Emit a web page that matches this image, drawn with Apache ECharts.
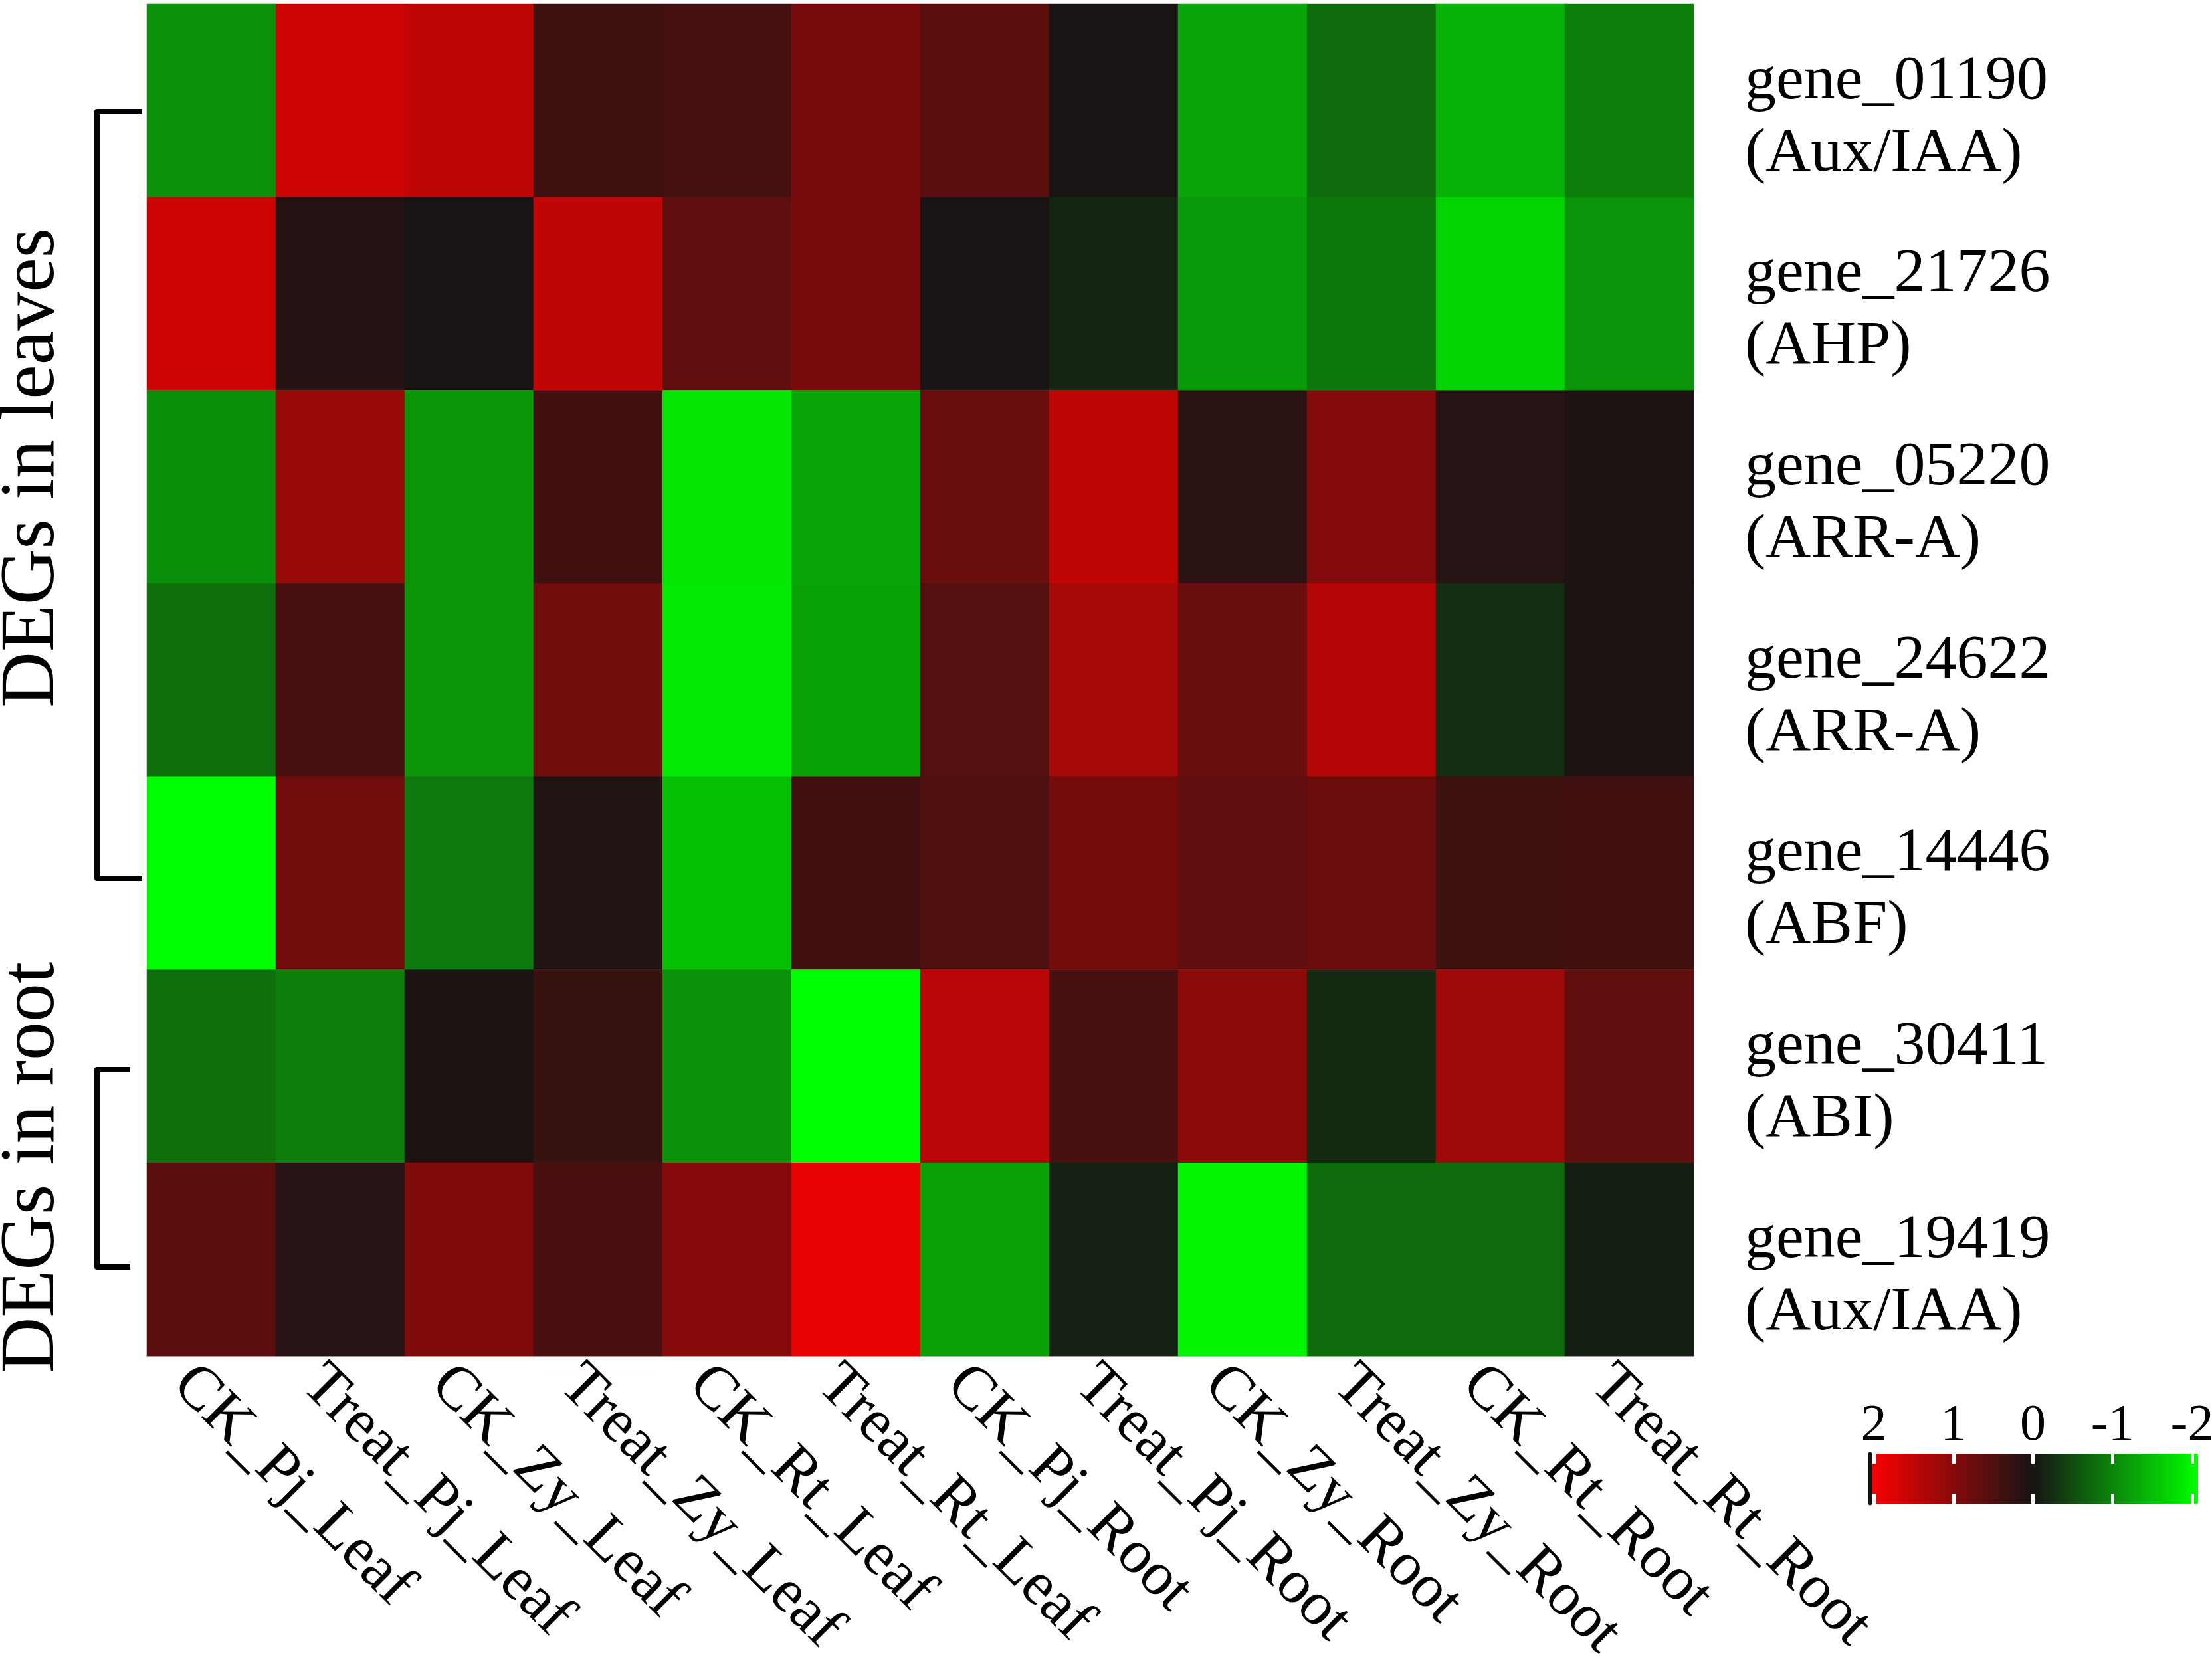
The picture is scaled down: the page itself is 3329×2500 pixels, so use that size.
<!DOCTYPE html>
<html>
<head>
<meta charset="utf-8">
<script src="https://cdn.jsdelivr.net/npm/echarts@6/dist/echarts.min.js"></script>
<style>
html,body{margin:0;padding:0;background:#fff;}
#chart{width:3329px;height:2500px;}
</style>
</head>
<body>
<div id="chart"></div>
<script>
// ---- data ----
const genes = ['gene_01190','gene_21726','gene_05220','gene_24622','gene_14446','gene_30411','gene_19419'];
const families = ['Aux/IAA','AHP','ARR-A','ARR-A','ABF','ABI','Aux/IAA'];
const samples = ['CK_Pj_Leaf','Treat_Pj_Leaf','CK_Zy_Leaf','Treat_Zy_Leaf','CK_Rt_Leaf','Treat_Rt_Leaf',
                 'CK_Pj_Root','Treat_Pj_Root','CK_Zy_Root','Treat_Zy_Root','CK_Rt_Root','Treat_Rt_Root'];
const gene_01190 = [-1.06, 1.56, 1.46, 0.35, 0.40, 0.82, 0.58, 0.02, -1.23, -0.75, -1.34, -0.92];
const gene_21726 = [ 1.56, 0.13, 0.02, 1.46, 0.64, 0.84, 0.02, -0.15, -1.14, -0.83, -1.63, -1.09];
const gene_05220 = [-1.05, 1.12, -1.11, 0.36, -1.79, -1.23, 0.72, 1.46, 0.17, 0.94, 0.14, 0.07];
const gene_24622 = [-0.78, 0.43, -1.11, 0.77, -1.82, -1.22, 0.53, 1.22, 0.72, 1.36, -0.22, 0.07];
const gene_14446 = [-2.00, 0.77, -0.85, 0.10, -1.46, 0.38, 0.48, 0.81, 0.64, 0.74, 0.34, 0.36];
const gene_30411 = [-0.78, -0.92, 0.07, 0.29, -1.06, -2.00, 1.39, 0.43, 1.00, -0.19, 1.18, 0.64];
const gene_19419 = [ 0.60, 0.15, 0.91, 0.45, 0.96, 1.80, -1.19, -0.12, -1.91, -0.75, -0.75, -0.09];
const rows = [gene_01190, gene_21726, gene_05220, gene_24622, gene_14446, gene_30411, gene_19419];
const scaleMin = -2, scaleMax = 2, scaleStep = 1;
const groupLabels = ['DEGs in leaves', 'DEGs in root'];

// ---- build ----
const cells = [];
rows.forEach((vals, r) => vals.forEach((v, c) => cells.push([c, r, v])));
const geneLabels = genes.map((g, i) => '{s| }\n' + g + '\n(' + families[i] + ')');

const FONT = 'Liberation Serif';
const chart = echarts.init(document.getElementById('chart'), null, {renderer: 'canvas'});

const legendAxis = (pos) => ({
  gridIndex: 1, type: 'value', min: scaleMin, max: scaleMax, interval: scaleStep,
  inverse: true, position: pos, z: 10,
  axisLine: {show: false, onZero: false},
  axisTick: {show: true, inside: true, length: 15, lineStyle: {color: '#ffffff', width: 5}},
  splitLine: {show: false},
  axisLabel: pos === 'top'
    ? {show: true, fontFamily: FONT, fontSize: 78, color: '#000', margin: 2, formatter: v => String(v)}
    : {show: false}
});

chart.setOption({
  animation: false,
  backgroundColor: '#ffffff',
  grid: [
    {left: 221, top: 6, width: 2328, height: 2035, containLabel: false, outerBoundsMode: 'none'},
    {left: 2820, top: 2188, width: 479, height: 75, containLabel: false, outerBoundsMode: 'none'}
  ],
  xAxis: [
    {
      type: 'category', data: samples, gridIndex: 0, position: 'bottom',
      axisLine: {show: true, onZero: false, lineStyle: {color: '#c4c0c0', width: 3}},
      axisTick: {show: false},
      splitLine: {show: false},
      axisLabel: {
        rotate: -45, interval: 0, fontFamily: FONT, fontSize: 93, color: '#000',
        margin: -15, align: 'left', verticalAlign: 'top', lineHeight: 124
      }
    },
    legendAxis('top'),
    legendAxis('bottom')
  ],
  yAxis: [
    {
      type: 'category', data: geneLabels, gridIndex: 0, position: 'right', inverse: true,
      axisLine: {show: false, onZero: false}, axisTick: {show: false}, splitLine: {show: false},
      axisLabel: {
        interval: 0, fontFamily: FONT, fontSize: 94, lineHeight: 109, color: '#000',
        margin: 77, align: 'left',
        rich: {s: {fontSize: 10, lineHeight: 52}}
      }
    },
    {
      gridIndex: 1, type: 'value', min: 0, max: 1, position: 'left', offset: 6, z: 10,
      axisLine: {show: true, onZero: false, lineStyle: {color: '#141414', width: 5}},
      axisTick: {show: false}, axisLabel: {show: false}, splitLine: {show: false}
    }
  ],
  visualMap: {
    type: 'continuous', min: scaleMin, max: scaleMax, seriesIndex: 0, z: 1,
    orient: 'horizontal', inverse: true, calculable: false, hoverLink: false,
    left: 2812, top: 2188, itemWidth: 75, itemHeight: 496, padding: 0,
    text: null, showLabel: false,
    inRange: {color: ['#00ff00', '#161414', '#ff0000']}
  },
  series: [{
    type: 'heatmap', xAxisIndex: 0, yAxisIndex: 0, data: cells,
    itemStyle: {borderWidth: 0},
    emphasis: {disabled: true}
  }],
  graphic: [
    {type: 'polyline', shape: {points: [[214, 168], [146, 168], [146, 1322], [214, 1322]]},
     style: {stroke: '#000', lineWidth: 8, fill: null, lineJoin: 'round', lineCap: 'butt'}},
    {type: 'polyline', shape: {points: [[196, 1610], [146, 1610], [146, 1907], [196, 1907]]},
     style: {stroke: '#000', lineWidth: 8, fill: null, lineJoin: 'round', lineCap: 'butt'}},
    {type: 'text', x: 50, y: 704, rotation: Math.PI / 2,
     style: {text: groupLabels[0], font: '116px "' + FONT + '"', fill: '#000', align: 'center', verticalAlign: 'middle'}},
    {type: 'text', x: 50, y: 1757, rotation: Math.PI / 2,
     style: {text: groupLabels[1], font: '116px "' + FONT + '"', fill: '#000', align: 'center', verticalAlign: 'middle'}}
  ]
});
</script>
</body>
</html>
